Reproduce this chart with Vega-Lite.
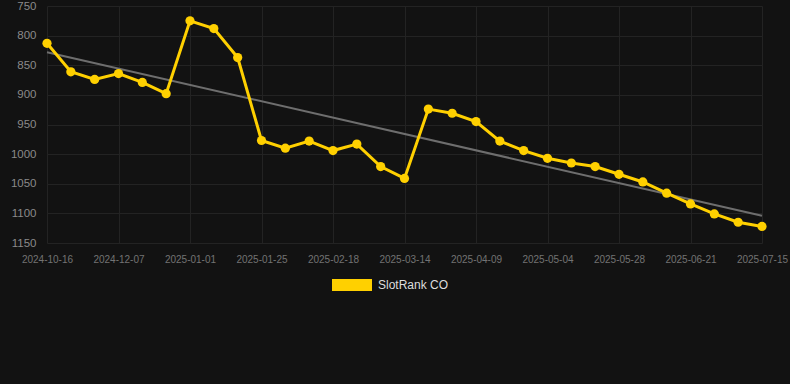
{
  "$schema": "https://vega.github.io/schema/vega-lite/v6.json",
  "width": 752,
  "height": 237,
  "autosize": {"type": "none"},
  "padding": {"left": 38, "top": 6, "right": 0, "bottom": 141},
  "background": "#121212",
  "config": {
    "view": {"stroke": null},
    "font": "Liberation Sans",
    "axis": {"gridColor": "#232323", "gridWidth": 1, "domain": false, "ticks": false, "labelOverlap": false}
  },
  "data": {
    "values": [
      {"date": "2024-10-16", "rank": 813, "trend": 828},
      {"date": "2024-11-03", "rank": 861, "trend": null},
      {"date": "2024-11-20", "rank": 874, "trend": null},
      {"date": "2024-12-07", "rank": 864, "trend": null},
      {"date": "2024-12-15", "rank": 879, "trend": null},
      {"date": "2024-12-23", "rank": 898, "trend": null},
      {"date": "2025-01-01", "rank": 775, "trend": null},
      {"date": "2025-01-09", "rank": 788, "trend": null},
      {"date": "2025-01-17", "rank": 837, "trend": null},
      {"date": "2025-01-25", "rank": 977, "trend": null},
      {"date": "2025-02-02", "rank": 990, "trend": null},
      {"date": "2025-02-10", "rank": 978, "trend": null},
      {"date": "2025-02-18", "rank": 994, "trend": null},
      {"date": "2025-02-26", "rank": 983, "trend": null},
      {"date": "2025-03-06", "rank": 1021, "trend": null},
      {"date": "2025-03-14", "rank": 1041, "trend": null},
      {"date": "2025-03-23", "rank": 924, "trend": null},
      {"date": "2025-04-01", "rank": 931, "trend": null},
      {"date": "2025-04-09", "rank": 945, "trend": null},
      {"date": "2025-04-17", "rank": 978, "trend": null},
      {"date": "2025-04-26", "rank": 994, "trend": null},
      {"date": "2025-05-04", "rank": 1007, "trend": null},
      {"date": "2025-05-12", "rank": 1015, "trend": null},
      {"date": "2025-05-20", "rank": 1021, "trend": null},
      {"date": "2025-05-28", "rank": 1034, "trend": null},
      {"date": "2025-06-05", "rank": 1047, "trend": null},
      {"date": "2025-06-13", "rank": 1066, "trend": null},
      {"date": "2025-06-21", "rank": 1084, "trend": null},
      {"date": "2025-06-29", "rank": 1101, "trend": null},
      {"date": "2025-07-07", "rank": 1115, "trend": null},
      {"date": "2025-07-15", "rank": 1122, "trend": 1104}
    ]
  },
  "encoding": {
    "x": {
      "field": "date",
      "type": "ordinal",
      "sort": null,
      "scale": {
        "type": "point",
        "range": [9, 724],
        "padding": 0,
        "domain": ["2024-10-16", "2024-11-03", "2024-11-20", "2024-12-07", "2024-12-15", "2024-12-23", "2025-01-01", "2025-01-09", "2025-01-17", "2025-01-25", "2025-02-02", "2025-02-10", "2025-02-18", "2025-02-26", "2025-03-06", "2025-03-14", "2025-03-23", "2025-04-01", "2025-04-09", "2025-04-17", "2025-04-26", "2025-05-04", "2025-05-12", "2025-05-20", "2025-05-28", "2025-06-05", "2025-06-13", "2025-06-21", "2025-06-29", "2025-07-07", "2025-07-15"]
      },
      "axis": {
        "title": null,
        "labelAngle": 0,
        "labelFontSize": 10,
        "labelColor": "#737373",
        "labelPadding": 11,
        "grid": true,
        "values": ["2024-10-16", "2024-12-07", "2025-01-01", "2025-01-25", "2025-02-18", "2025-03-14", "2025-04-09", "2025-05-04", "2025-05-28", "2025-06-21", "2025-07-15"]
      }
    },
    "y": {
      "field": "rank",
      "type": "quantitative",
      "scale": {"domain": [750, 1150], "reverse": true, "nice": false, "zero": false},
      "axis": {
        "title": null,
        "format": "d",
        "values": [750, 800, 850, 900, 950, 1000, 1050, 1100, 1150],
        "labelFontSize": 11.5,
        "labelColor": "#8a8a8a",
        "labelPadding": 2,
        "grid": true
      }
    }
  },
  "layer": [
    {
      "mark": {"type": "line", "color": "#6e6e6e", "strokeWidth": 2, "invalid": "filter"},
      "encoding": {
        "y": {"field": "trend", "type": "quantitative"}
      }
    },
    {
      "mark": {"type": "line", "strokeWidth": 3},
      "encoding": {
        "color": {
          "datum": "SlotRank CO",
          "scale": {"range": ["#ffd000"]},
          "legend": {
            "title": null,
            "orient": "none",
            "legendX": 294,
            "legendY": 259,
            "symbolType": "M-1,-0.3h2v0.6h-2z",
            "symbolSize": 1600,
            "symbolFillColor": "#ffd000",
            "symbolStrokeColor": "#ffd000",
            "symbolStrokeWidth": 0,
            "labelFontSize": 12,
            "labelColor": "#dddddd",
            "labelOffset": 6
          }
        }
      }
    },
    {
      "mark": {"type": "point", "filled": true, "size": 85, "opacity": 1},
      "encoding": {
        "color": {"datum": "SlotRank CO"}
      }
    }
  ]
}
